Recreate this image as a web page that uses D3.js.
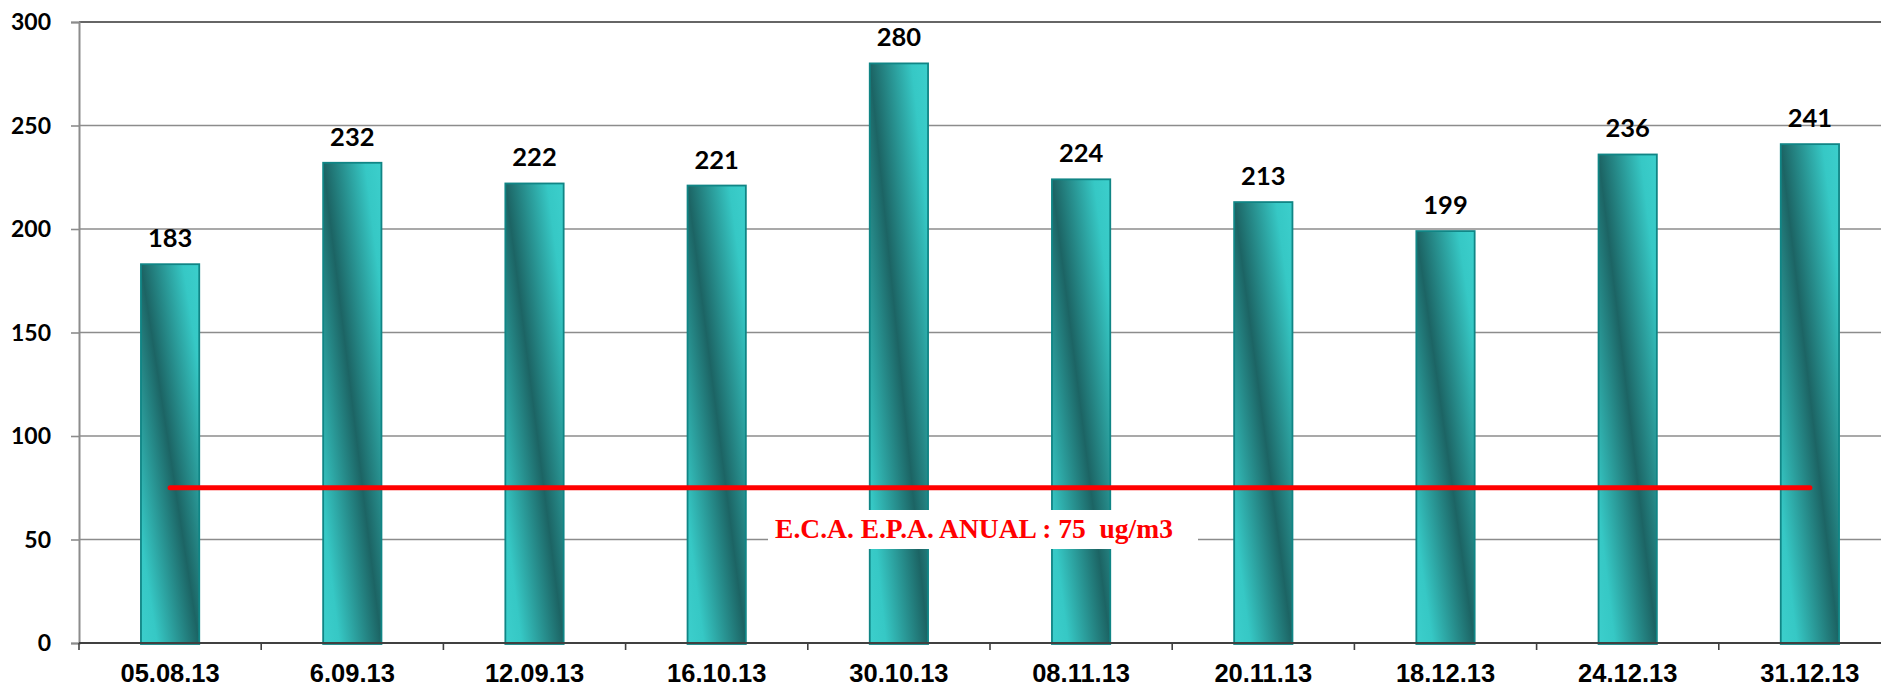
<!DOCTYPE html>
<html>
<head>
<meta charset="utf-8">
<script src="https://cdn.jsdelivr.net/npm/d3@7"></script>
<style>
  html, body { margin: 0; padding: 0; background: #ffffff; }
  svg { display: block; }
</style>
</head>
<body>
<svg id="chart" width="1881" height="686"></svg>
<script>
// ---- data ----
const categories = ["05.08.13", "6.09.13", "12.09.13", "16.10.13", "30.10.13", "08.11.13", "20.11.13", "18.12.13", "24.12.13", "31.12.13"];
const values = [183, 232, 222, 221, 280, 224, 213, 199, 236, 241];
const yTicks = [0, 50, 100, 150, 200, 250, 300];
const standardValue = 75;
const standardLabel = "E.C.A. E.P.A. ANUAL : 75  ug/m3";

// ---- layout ----
const W = 1881, H = 686;
const mLeft = 79, mRight = 1901, mTop = 22, mBottom = 643;

const svg = d3.select("#chart");

const x = d3.scaleBand().domain(categories).range([mLeft, mRight]).paddingInner(0.68).paddingOuter(0.34);
const y = d3.scaleLinear().domain([0, 300]).range([mBottom, mTop]);

// gradient
const defs = svg.append("defs");
const grad = defs.append("linearGradient").attr("id", "barGrad")
  .attr("x1", 0).attr("y1", 1).attr("x2", 1).attr("y2", 0);
grad.append("stop").attr("offset", "0%").attr("stop-color", "#3ccfcc");
grad.append("stop").attr("offset", "14%").attr("stop-color", "#36c8c5");
grad.append("stop").attr("offset", "50%").attr("stop-color", "#1c6464");
grad.append("stop").attr("offset", "86%").attr("stop-color", "#36c8c5");
grad.append("stop").attr("offset", "100%").attr("stop-color", "#3ccfcc");

// gridlines
svg.append("g").selectAll("line").data(yTicks.filter(d => d > 0)).join("line")
  .attr("x1", mLeft).attr("x2", W)
  .attr("y1", d => y(d)).attr("y2", d => y(d))
  .attr("stroke", d => d === 300 ? "#333333" : "#8c8c8c")
  .attr("stroke-width", 1.6);

// y axis
const yAxis = svg.append("g").attr("transform", `translate(${mLeft},0)`)
  .call(d3.axisLeft(y).tickValues(yTicks).tickSize(8).tickPadding(20));
yAxis.select(".domain").attr("stroke", "#8c8c8c").attr("stroke-width", 2);
yAxis.selectAll(".tick line").attr("stroke", "#8c8c8c").attr("stroke-width", 1.6);
yAxis.selectAll(".tick text")
  .attr("font-family", "Lato, 'Open Sans', sans-serif")
  .attr("font-weight", 700).attr("font-size", 23).attr("fill", "#000")
  .attr("dy", "0.34em");

// bars
svg.append("g").selectAll("rect").data(values).join("rect")
  .attr("x", (d, i) => x(categories[i]))
  .attr("width", x.bandwidth())
  .attr("y", d => y(d))
  .attr("height", d => y(0) - y(d) + 1)
  .attr("fill", "url(#barGrad)")
  .attr("stroke", "#108585").attr("stroke-width", 1.8);

// x axis
const xAxis = svg.append("g").attr("transform", `translate(0,${mBottom})`)
  .call(d3.axisBottom(x).tickSize(0).tickPadding(21));
xAxis.select(".domain").remove();
svg.append("line").attr("x1", mLeft).attr("x2", W).attr("y1", mBottom).attr("y2", mBottom)
  .attr("stroke", "#404040").attr("stroke-width", 2);
const bounds = categories.map((c, i) => mLeft + i * x.step());
svg.append("g").selectAll("line").data(bounds).join("line")
  .attr("x1", d => d).attr("x2", d => d).attr("y1", mBottom).attr("y2", mBottom + 7)
  .attr("stroke", "#404040").attr("stroke-width", 1.6);
xAxis.selectAll(".tick text")
  .attr("font-family", "'Liberation Sans', Arial, sans-serif")
  .attr("font-weight", 700).attr("font-size", 25.5).attr("fill", "#000");

// value labels
svg.append("g").selectAll("text").data(values).join("text")
  .attr("x", (d, i) => x(categories[i]) + x.bandwidth() / 2)
  .attr("y", d => y(d) - 17)
  .attr("text-anchor", "middle")
  .attr("font-family", "Lato, 'Open Sans', sans-serif")
  .attr("font-weight", 700).attr("font-size", 25.5).attr("fill", "#000")
  .text(d => d);

// standard line
const lx0 = x(categories[0]) + x.bandwidth() / 2;
const lx1 = x(categories[categories.length - 1]) + x.bandwidth() / 2;
svg.append("line")
  .attr("x1", lx0).attr("x2", lx1)
  .attr("y1", y(standardValue)).attr("y2", y(standardValue))
  .attr("stroke", "#ff0000").attr("stroke-width", 5).attr("stroke-linecap", "round");

// standard label box
svg.append("rect").attr("x", 768).attr("y", 510).attr("width", 430).attr("height", 39).attr("fill", "#ffffff");
svg.append("text")
  .attr("x", 974).attr("y", 538)
  .attr("text-anchor", "middle")
  .attr("font-family", "'Liberation Serif', 'DejaVu Serif', serif")
  .attr("font-weight", 700).attr("font-size", 27.5).attr("fill", "#ff0000")
  .style("white-space", "pre")
  .text(standardLabel);
</script>
</body>
</html>
